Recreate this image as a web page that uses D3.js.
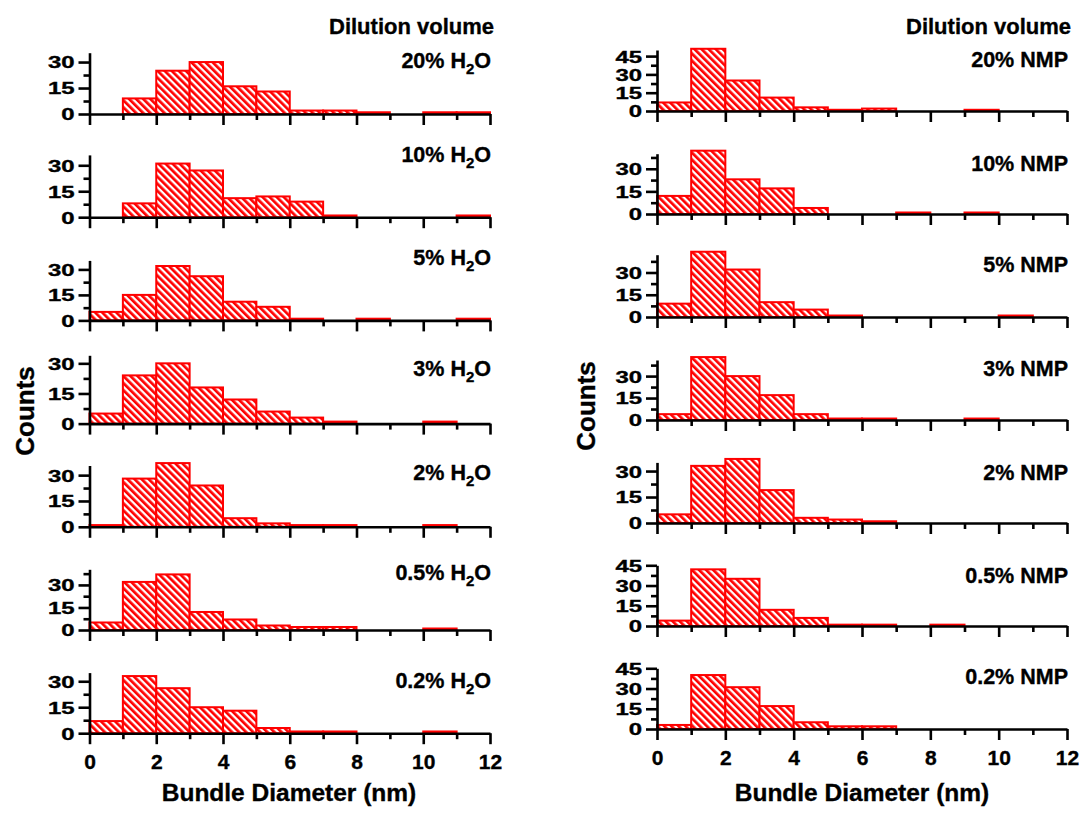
<!DOCTYPE html>
<html>
<head>
<meta charset="utf-8">
<script src="https://cdn.jsdelivr.net/npm/d3@7"></script>
<style>
  body { margin: 0; background: #fff; }
  text { font-family: "Liberation Sans", Arial, sans-serif; font-weight: bold; fill: #000; stroke: #000; stroke-width: 0.35px; }
</style>
</head>
<body>
<div id="chart"></div>
<script>
// bin starts (nm), each bin is 1 nm wide
var binStarts = [0, 1, 2, 3, 4, 5, 6, 7, 8, 9, 10, 11];
var xTickLabels = [0, 2, 4, 6, 8, 10, 12];
var yTickMajor = [0, 15, 30, 45];
var yTickMinor = [7.5, 22.5, 37.5];

var dilutions = ['20%', '10%', '5%', '3%', '2%', '0.5%', '0.2%'];

var h2oCounts = [
    [0, 9, 25, 30, 16, 13, 2, 2, 1, 0, 1, 1],
    [0, 8, 31, 27, 11, 12, 9, 1, 0, 0, 0, 1],
    [5, 15, 32, 26, 11, 8, 1, 0, 1, 0, 0, 1],
    [5, 24, 30, 18, 12, 6, 3, 1, 0, 0, 1, 0],
    [1, 28, 37, 24, 5, 2, 1, 1, 0, 0, 1, 0],
    [5, 32, 37, 12, 7, 3, 2, 2, 0, 0, 1, 0],
    [7, 33, 26, 15, 13, 3, 1, 1, 0, 0, 1, 0]
];
var nmpCounts = [
    [7, 51, 25, 11, 3, 1, 2, 0, 0, 1, 0, 0],
    [12, 42, 23, 17, 4, 0, 0, 1, 0, 1, 0, 0],
    [9, 44, 32, 10, 5, 1, 0, 0, 0, 0, 1, 0],
    [4, 43, 30, 17, 4, 1, 1, 0, 0, 1, 0, 0],
    [5, 33, 37, 19, 3, 2, 1, 0, 0, 0, 0, 0],
    [4, 42, 35, 12, 6, 1, 1, 0, 1, 0, 0, 0],
    [3, 40, 31, 17, 5, 2, 2, 0, 0, 0, 0, 0]
];
// top of each y axis (counts)
var h2oYMax = [35.4, 36, 35.3, 34, 35.6, 40.4, 35];
var nmpYMax = [50, 40, 42, 41, 35, 45, 45];

// layout
var width = 1088, height = 813;
var sides = [
    { counts: h2oCounts, yMax: h2oYMax, solvent: 'H2O', x0: 89.5, x1: 490, base0: 114, step: 103.2,
      heights: [61.3, 62.3, 60, 68.3, 61.3, 60.7, 60.6], labelDy: [-46, -55.5, -55, -48, -47, -50.5, -45],
      countsX: 34, countsY: 411, titleX: 289 },
    { counts: nmpCounts, yMax: nmpYMax, solvent: 'NMP', x0: 657, x1: 1067, base0: 111, step: 103,
      heights: [61, 60.3, 62.3, 60, 60.6, 60.7, 60.7], labelDy: [-44, -43, -45, -44, -43.5, -43.5, -45.5],
      countsX: 595, countsY: 406, titleX: 862 }
];

var svg = d3.select('#chart').append('svg')
    .attr('width', width)
    .attr('height', height);

// diagonal hatch "\\\"
var pat = svg.append('defs').append('pattern')
    .attr('id', 'hatch')
    .attr('patternUnits', 'userSpaceOnUse')
    .attr('width', 5).attr('height', 5)
    .attr('patternTransform', 'rotate(-45)');
pat.append('rect').attr('width', 5).attr('height', 5).attr('fill', '#fff');
pat.append('rect').attr('width', 2.7).attr('height', 5).attr('fill', '#ff0000');

sides.forEach(function (s) {
    var xScale = d3.scaleLinear().domain([0, 12]).range([s.x0, s.x1]);

    svg.append('text')
        .attr('x', s.x1 + 4).attr('y', 34)
        .attr('text-anchor', 'end')
        .style('font-size', '22px')
        .text('Dilution volume');

    s.counts.forEach(function (row, i) {
        var base = s.base0 + i * s.step;
        var yScale = d3.scaleLinear().domain([0, s.yMax[i]]).range([base, base - s.heights[i]]);
        var g = svg.append('g');

        g.selectAll('rect')
            .data(binStarts.filter(function (b) { return row[b] > 0; }))
            .enter()
            .append('rect')
            .attr('x', function (b) { return xScale(b); })
            .attr('width', function (b) { return xScale(b + 1) - xScale(b); })
            .attr('y', function (b) { return yScale(row[b]); })
            .attr('height', function (b) { return yScale(0) - yScale(row[b]); })
            .attr('fill', 'url(#hatch)')
            .attr('stroke', '#ff0000')
            .attr('stroke-width', 2);

        var last = i === s.counts.length - 1;

        // x axis
        var xMajor = d3.axisBottom(xScale).tickValues(xTickLabels).tickSize(11).tickSizeOuter(0)
            .tickFormat(last ? d3.format('d') : '');
        var xMinor = d3.axisBottom(xScale).tickValues(binStarts.filter(function (b) { return b % 2; }))
            .tickSize(6).tickSizeOuter(0).tickFormat('');
        var xg = g.append('g').attr('transform', 'translate(0,' + base + ')').call(xMajor);
        g.append('g').attr('transform', 'translate(0,' + base + ')').call(xMinor)
            .select('.domain').remove();
        xg.selectAll('text').attr('y', 36).attr('dy', 0).style('font-size', '21px');

        // y axis
        var maj = yTickMajor.filter(function (v) { return v <= s.yMax[i] + 0.01; });
        var mn = yTickMinor.filter(function (v) { return v <= s.yMax[i]; });
        var yg = g.append('g').attr('transform', 'translate(' + s.x0 + ',0)')
            .call(d3.axisLeft(yScale).tickValues(maj).tickSize(11).tickSizeOuter(0));
        g.append('g').attr('transform', 'translate(' + s.x0 + ',0)')
            .call(d3.axisLeft(yScale).tickValues(mn).tickSize(6).tickSizeOuter(0).tickFormat(''))
            .select('.domain').remove();
        yg.selectAll('text')
            .attr('x', 0)
            .attr('dy', '0.36em')
            .attr('transform', 'translate(-15,0) scale(1.45,1)')
            .style('font-size', '16.5px');

        g.selectAll('.domain, .tick line').attr('stroke', '#000').attr('stroke-width', 2.6);
        g.selectAll('.tick text').attr('fill', '#000').style('font-family', '"Liberation Sans", Arial, sans-serif');

        // panel label
        var lab = g.append('text')
            .attr('x', s.x1 + 1).attr('y', base + s.labelDy[i])
            .attr('text-anchor', 'end')
            .style('font-size', '21.5px');
        if (s.solvent === 'H2O') {
            lab.append('tspan').text(dilutions[i] + ' H');
            lab.append('tspan').attr('dy', 6).style('font-size', '15px').text('2');
            lab.append('tspan').attr('dy', -6).text('O');
        } else {
            lab.text(dilutions[i] + ' NMP');
        }
    });

    svg.append('text')
        .attr('transform', 'translate(' + s.countsX + ',' + s.countsY + ') rotate(-90)')
        .attr('text-anchor', 'middle')
        .style('font-size', '26px')
        .text('Counts');

    svg.append('text')
        .attr('x', s.titleX).attr('y', 801)
        .attr('text-anchor', 'middle')
        .style('font-size', '24.5px')
        .text('Bundle Diameter (nm)');
});
</script>
</body>
</html>
